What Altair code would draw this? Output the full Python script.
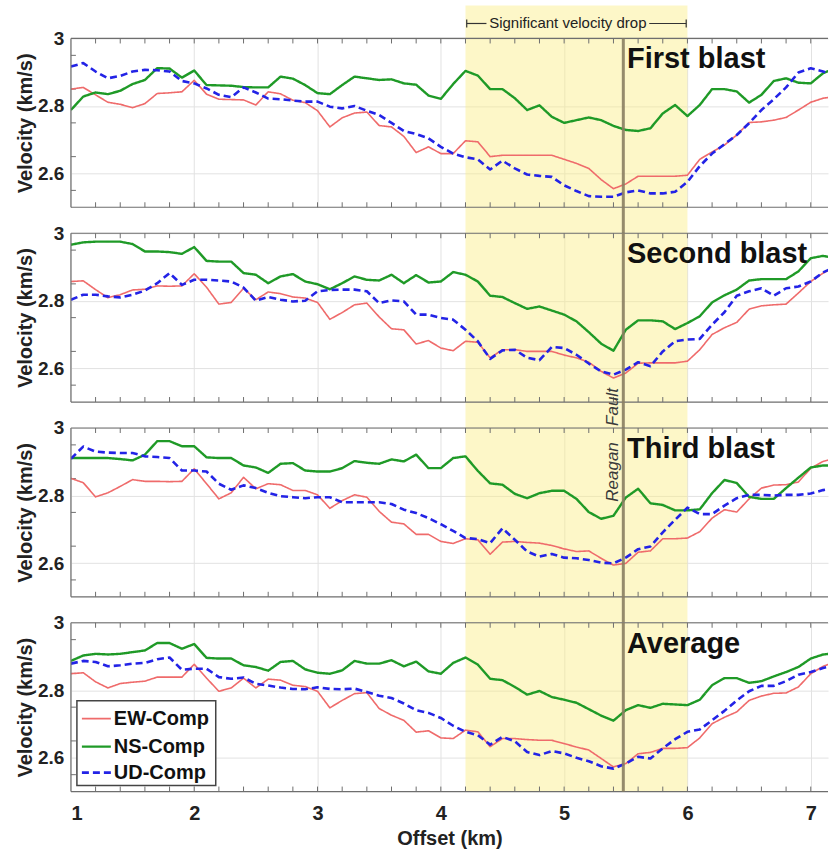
import altair as alt
import pandas as pd

# ---------------- data ----------------
OFFSET = [1.0, 1.1, 1.2, 1.3, 1.4, 1.5, 1.6, 1.7, 1.8, 1.9,
          2.0, 2.1, 2.2, 2.3, 2.4, 2.5, 2.6, 2.7, 2.8, 2.9,
          3.0, 3.1, 3.2, 3.3, 3.4, 3.5, 3.6, 3.7, 3.8, 3.9,
          4.0, 4.1, 4.2, 4.3, 4.4, 4.5, 4.6, 4.7, 4.8, 4.9,
          5.0, 5.1, 5.2, 5.3, 5.4, 5.5, 5.6, 5.7, 5.8, 5.9,
          6.0, 6.1, 6.2, 6.3, 6.4, 6.5, 6.6, 6.7, 6.8, 6.9,
          7.0, 7.1, 7.2]

P1_EW = [2.850, 2.855, 2.833, 2.811, 2.805, 2.795, 2.807, 2.837, 2.839, 2.842,
         2.876, 2.835, 2.820, 2.819, 2.818, 2.803, 2.842, 2.836, 2.817, 2.810,
         2.786, 2.738, 2.765, 2.779, 2.782, 2.742, 2.738, 2.710, 2.662, 2.679,
         2.659, 2.659, 2.697, 2.694, 2.650, 2.654, 2.654, 2.654, 2.654, 2.654,
         2.642, 2.630, 2.615, 2.582, 2.555, 2.569, 2.592, 2.592, 2.592, 2.592,
         2.595, 2.642, 2.664, 2.684, 2.714, 2.751, 2.753, 2.758, 2.766, 2.788,
         2.811, 2.823, 2.828]
P1_NS = [2.788, 2.828, 2.840, 2.835, 2.845, 2.865, 2.877, 2.912, 2.911, 2.884,
         2.905, 2.862, 2.861, 2.860, 2.856, 2.855, 2.855, 2.887, 2.881, 2.862,
         2.838, 2.835, 2.862, 2.887, 2.882, 2.877, 2.879, 2.867, 2.863, 2.831,
         2.821, 2.865, 2.904, 2.890, 2.850, 2.850, 2.823, 2.788, 2.802, 2.768,
         2.750, 2.758, 2.766, 2.758, 2.741, 2.729, 2.726, 2.734, 2.778, 2.803,
         2.770, 2.803, 2.850, 2.850, 2.843, 2.810, 2.833, 2.874, 2.882, 2.869,
         2.867, 2.897, 2.912]
P1_UD = [2.917, 2.927, 2.902, 2.882, 2.889, 2.902, 2.907, 2.906, 2.902, 2.874,
         2.867, 2.852, 2.833, 2.826, 2.855, 2.840, 2.822, 2.820, 2.816, 2.813,
         2.813, 2.798, 2.793, 2.800, 2.786, 2.773, 2.750, 2.726, 2.717, 2.704,
         2.679, 2.659, 2.648, 2.642, 2.612, 2.638, 2.615, 2.597, 2.593, 2.590,
         2.565, 2.548, 2.533, 2.531, 2.531, 2.544, 2.550, 2.541, 2.541, 2.546,
         2.575, 2.622, 2.659, 2.687, 2.714, 2.749, 2.788, 2.820, 2.855, 2.899,
         2.912, 2.902, 2.892]

P2_EW = [2.857, 2.859, 2.833, 2.809, 2.818, 2.832, 2.834, 2.844, 2.843, 2.844,
         2.880, 2.840, 2.790, 2.795, 2.837, 2.803, 2.826, 2.821, 2.811, 2.808,
         2.795, 2.745, 2.765, 2.788, 2.793, 2.752, 2.717, 2.714, 2.672, 2.682,
         2.660, 2.652, 2.680, 2.677, 2.631, 2.655, 2.655, 2.650, 2.650, 2.650,
         2.639, 2.631, 2.618, 2.591, 2.571, 2.586, 2.615, 2.616, 2.616, 2.616,
         2.621, 2.655, 2.700, 2.720, 2.736, 2.775, 2.785, 2.788, 2.790, 2.823,
         2.857, 2.882, 2.900]
P2_NS = [2.966, 2.973, 2.975, 2.975, 2.975, 2.968, 2.946, 2.946, 2.944, 2.939,
         2.959, 2.918, 2.916, 2.916, 2.882, 2.877, 2.852, 2.872, 2.879, 2.857,
         2.849, 2.834, 2.852, 2.872, 2.862, 2.860, 2.877, 2.852, 2.876, 2.854,
         2.857, 2.885, 2.877, 2.857, 2.815, 2.811, 2.793, 2.776, 2.783, 2.771,
         2.759, 2.739, 2.707, 2.673, 2.652, 2.714, 2.742, 2.742, 2.739, 2.716,
         2.734, 2.754, 2.795, 2.816, 2.833, 2.860, 2.864, 2.864, 2.864, 2.887,
         2.926, 2.933, 2.926]
P2_UD = [2.803, 2.818, 2.818, 2.813, 2.810, 2.818, 2.830, 2.852, 2.882, 2.847,
         2.862, 2.862, 2.860, 2.857, 2.839, 2.800, 2.811, 2.803, 2.798, 2.800,
         2.828, 2.832, 2.833, 2.833, 2.828, 2.793, 2.801, 2.798, 2.759, 2.759,
         2.749, 2.744, 2.714, 2.680, 2.628, 2.653, 2.655, 2.631, 2.624, 2.663,
         2.660, 2.640, 2.614, 2.591, 2.581, 2.596, 2.618, 2.606, 2.650, 2.680,
         2.685, 2.687, 2.729, 2.766, 2.815, 2.828, 2.837, 2.815, 2.837, 2.842,
         2.857, 2.884, 2.901]

P3_EW = [2.851, 2.838, 2.796, 2.808, 2.827, 2.847, 2.842, 2.842, 2.841, 2.842,
         2.879, 2.835, 2.790, 2.808, 2.854, 2.820, 2.835, 2.832, 2.815, 2.815,
         2.802, 2.762, 2.785, 2.802, 2.795, 2.753, 2.721, 2.716, 2.685, 2.685,
         2.664, 2.658, 2.672, 2.669, 2.626, 2.662, 2.664, 2.661, 2.659, 2.652,
         2.642, 2.634, 2.636, 2.614, 2.594, 2.599, 2.632, 2.636, 2.672, 2.672,
         2.674, 2.693, 2.733, 2.758, 2.751, 2.790, 2.822, 2.831, 2.832, 2.840,
         2.881, 2.901, 2.911]
P3_NS = [2.911, 2.911, 2.911, 2.911, 2.908, 2.904, 2.921, 2.961, 2.961, 2.946,
         2.946, 2.913, 2.911, 2.911, 2.889, 2.883, 2.867, 2.894, 2.896, 2.874,
         2.871, 2.871, 2.881, 2.902, 2.897, 2.894, 2.907, 2.901, 2.921, 2.881,
         2.881, 2.911, 2.916, 2.873, 2.836, 2.832, 2.805, 2.792, 2.807, 2.814,
         2.814, 2.790, 2.751, 2.731, 2.740, 2.794, 2.820, 2.777, 2.772, 2.756,
         2.756, 2.759, 2.807, 2.846, 2.837, 2.796, 2.790, 2.790, 2.822, 2.853,
         2.883, 2.889, 2.889]
P3_UD = [2.909, 2.945, 2.930, 2.927, 2.926, 2.926, 2.916, 2.914, 2.911, 2.874,
         2.874, 2.871, 2.835, 2.817, 2.830, 2.822, 2.808, 2.798, 2.795, 2.792,
         2.795, 2.795, 2.780, 2.780, 2.780, 2.780, 2.775, 2.758, 2.748, 2.733,
         2.715, 2.695, 2.674, 2.671, 2.659, 2.703, 2.669, 2.634, 2.619, 2.627,
         2.616, 2.614, 2.609, 2.601, 2.599, 2.616, 2.641, 2.649, 2.691, 2.728,
         2.764, 2.745, 2.745, 2.770, 2.792, 2.802, 2.802, 2.800, 2.802, 2.802,
         2.806, 2.816, 2.822]

P4_EW = [2.849, 2.852, 2.825, 2.807, 2.820, 2.824, 2.827, 2.839, 2.839, 2.839,
         2.877, 2.836, 2.797, 2.807, 2.836, 2.807, 2.833, 2.830, 2.815, 2.811,
         2.797, 2.748, 2.770, 2.790, 2.793, 2.746, 2.726, 2.711, 2.676, 2.680,
         2.659, 2.657, 2.682, 2.677, 2.633, 2.657, 2.657, 2.654, 2.652, 2.652,
         2.642, 2.632, 2.623, 2.598, 2.573, 2.583, 2.612, 2.616, 2.628, 2.628,
         2.630, 2.659, 2.701, 2.720, 2.736, 2.770, 2.783, 2.791, 2.792, 2.810,
         2.849, 2.871, 2.884]
P4_NS = [2.887, 2.903, 2.908, 2.906, 2.908, 2.913, 2.918, 2.940, 2.940, 2.923,
         2.937, 2.896, 2.894, 2.894, 2.874, 2.869, 2.858, 2.884, 2.887, 2.862,
         2.852, 2.849, 2.859, 2.887, 2.879, 2.879, 2.889, 2.871, 2.885, 2.856,
         2.849, 2.881, 2.897, 2.876, 2.834, 2.830, 2.810, 2.787, 2.798, 2.780,
         2.772, 2.763, 2.744, 2.725, 2.710, 2.741, 2.756, 2.748, 2.760, 2.758,
         2.756, 2.772, 2.815, 2.836, 2.836, 2.822, 2.827, 2.841, 2.854, 2.869,
         2.894, 2.906, 2.910]
P4_UD = [2.879, 2.887, 2.884, 2.871, 2.874, 2.879, 2.881, 2.892, 2.897, 2.861,
         2.864, 2.864, 2.839, 2.834, 2.838, 2.819, 2.814, 2.808, 2.804, 2.803,
         2.809, 2.804, 2.803, 2.805, 2.795, 2.784, 2.777, 2.761, 2.741, 2.733,
         2.718, 2.695, 2.677, 2.667, 2.639, 2.662, 2.649, 2.617, 2.608, 2.620,
         2.613, 2.600, 2.590, 2.575, 2.568, 2.583, 2.603, 2.598, 2.628, 2.655,
         2.677, 2.684, 2.711, 2.739, 2.770, 2.797, 2.813, 2.813, 2.827, 2.846,
         2.854, 2.866, 2.874]

PANEL_NAMES = ["First blast", "Second blast", "Third blast", "Average"]
COMPONENTS = ["EW-Comp", "NS-Comp", "UD-Comp"]
X_TICKS = [1, 2, 3, 4, 5, 6, 7]
Y_TICKS = [2.6, 2.8, 3.0]
MINOR_X = [1.2, 1.4, 1.6, 1.8, 2.0, 2.2, 2.4, 2.6, 2.8, 3.0, 3.2, 3.4, 3.6, 3.8,
           4.0, 4.2, 4.4, 4.6, 4.8, 5.0, 5.2, 5.4, 5.6, 5.8, 6.0, 6.2, 6.4, 6.6,
           6.8, 7.0]
MINOR_Y = [2.55, 2.65, 2.75, 2.85, 2.95]
DROP_ZONE = [4.2, 6.0]
FAULT_X = 5.48

# ---------------- style ----------------
FONT = "Liberation Sans"
W, H, GAP = 758, 169, 26
XMAX = 7.14
COLORS = {"EW-Comp": "#ef6b6b", "NS-Comp": "#1f9a27", "UD-Comp": "#2323e6"}
WIDTHS = {"EW-Comp": 1.6, "NS-Comp": 2.4, "UD-Comp": 2.6}
DASHES = {"EW-Comp": [1, 0], "NS-Comp": [1, 0], "UD-Comp": [7, 4]}
FRAME = "#6e6e6e"
GRID = "#e2e2e2"
YELLOW = "#fbed85"

series = [(P1_EW, P1_NS, P1_UD), (P2_EW, P2_NS, P2_UD),
          (P3_EW, P3_NS, P3_UD), (P4_EW, P4_NS, P4_UD)]

dummy = pd.DataFrame({"d": [0]})


def xenc(show):
    return alt.X(
        "offset:Q",
        scale=alt.Scale(domain=[1, XMAX], nice=False, zero=False),
        axis=alt.Axis(values=X_TICKS, grid=True, gridColor=GRID, gridWidth=1,
                      ticks=False, domain=False, labels=show,
                      labelFontSize=20, labelFontWeight="bold", labelColor="#222",
                      labelPadding=12, labelFont=FONT,
                      title="Offset (km)" if show else None,
                      titleFontSize=20, titleFontWeight="bold", titleColor="#222",
                      titleFont=FONT, titlePadding=5),
    )


def yenc():
    return alt.Y(
        "velocity:Q",
        scale=alt.Scale(domain=[2.5, 3.0], nice=False, zero=False),
        axis=alt.Axis(values=Y_TICKS, format="~g", grid=True, gridColor=GRID,
                      gridWidth=1, ticks=False, domain=False,
                      labelFontSize=19, labelFontWeight="bold", labelColor="#222",
                      labelPadding=7, labelFont=FONT,
                      title="Velocity (km/s)", titleFontSize=20,
                      titleFontWeight="bold", titleColor="#222", titleFont=FONT,
                      titlePadding=2),
    )


def panel(i):
    show = i == 3
    ew, ns, ud = series[i]
    xe = xenc(show)
    ye = yenc()
    top = -33 if i == 0 else 0
    bot = H if i == 3 else H + GAP

    band = alt.Chart(pd.DataFrame({"offset": [DROP_ZONE[0]], "offset2": [DROP_ZONE[1]]})).mark_rect(
        color=YELLOW, opacity=0.45
    ).encode(x=xe, x2="offset2:Q", y=alt.value(top), y2=alt.value(bot))

    layers = [band]

    # inward minor ticks
    mdf = pd.DataFrame({"offset": MINOR_X})
    layers.append(alt.Chart(mdf).mark_rule(color=FRAME, strokeWidth=1).encode(
        x=xe, y=alt.value(0), y2=alt.value(5)))
    layers.append(alt.Chart(mdf).mark_rule(color=FRAME, strokeWidth=1).encode(
        x=xe, y=alt.value(H - 5), y2=alt.value(H)))
    ydf = pd.DataFrame({"velocity": MINOR_Y})
    layers.append(alt.Chart(ydf).mark_rule(color=FRAME, strokeWidth=1).encode(
        y=ye, x=alt.value(0), x2=alt.value(5)))

    for comp, vals in zip(COMPONENTS, (ew, ns, ud)):
        df = pd.DataFrame({"offset": OFFSET, "velocity": vals})
        layers.append(alt.Chart(df).mark_line(
            color=COLORS[comp], strokeWidth=WIDTHS[comp], strokeDash=DASHES[comp],
            clip=True, strokeJoin="round").encode(x=xe, y=ye))

    # frame
    layers.append(alt.Chart(dummy).mark_rule(color=FRAME, strokeWidth=1.2).encode(
        x=alt.value(0), x2=alt.value(W), y=alt.value(0)))
    layers.append(alt.Chart(dummy).mark_rule(color=FRAME, strokeWidth=1.2).encode(
        x=alt.value(0), x2=alt.value(W), y=alt.value(H)))
    layers.append(alt.Chart(dummy).mark_rule(color=FRAME, strokeWidth=1.2).encode(
        x=alt.value(0), y=alt.value(0), y2=alt.value(H)))

    # fault line
    layers.append(alt.Chart(pd.DataFrame({"offset": [FAULT_X]})).mark_rule(
        color="#8a7e62", strokeWidth=3, opacity=0.9).encode(
        x=xe, y=alt.value(0), y2=alt.value(bot)))

    # panel label
    layers.append(alt.Chart(pd.DataFrame({"offset": [5.51], "t": [PANEL_NAMES[i]]})).mark_text(
        align="left", baseline="alphabetic", fontSize=29, fontWeight="bold",
        font=FONT, color="#111").encode(x=xe, y=alt.value(30), text="t:N"))

    if i == 0:
        ann = pd.DataFrame({"offset": [5.03], "t": ["Significant velocity drop"]})
        layers.append(alt.Chart(ann).mark_text(
            align="center", baseline="middle", fontSize=15, font=FONT,
            color="#222").encode(x=xe, y=alt.value(-15), text="t:N"))
        seg = pd.DataFrame({"offset": [4.21, 5.69], "offset2": [4.37, 5.99]})
        layers.append(alt.Chart(seg).mark_rule(color="#333", strokeWidth=1.2).encode(
            x=xe, x2="offset2:Q", y=alt.value(-15)))
        caps = pd.DataFrame({"offset": [4.21, 5.99]})
        layers.append(alt.Chart(caps).mark_rule(color="#333", strokeWidth=1.2).encode(
            x=xe, y=alt.value(-19), y2=alt.value(-11)))

    if i == 2:
        ft = pd.DataFrame({"offset": [5.40, 5.40], "t": ["Reagan", "Fault"], "py": [44, -21]})
        layers.append(alt.Chart(ft).mark_text(
            angle=270, align="center", baseline="middle", fontSize=17,
            fontStyle="italic", font=FONT, color="#3a3a3a").encode(
            x=xe, y=alt.Y("py:Q", scale=None), text="t:N"))

    if i == 3:
        layers.append(alt.Chart(dummy).mark_rect(
            fill="white", stroke="#444", strokeWidth=1.5).encode(
            x=alt.value(6), x2=alt.value(145), y=alt.value(78), y2=alt.value(163)))
        for k, comp in enumerate(COMPONENTS):
            yy = [96, 124, 150][k]
            layers.append(alt.Chart(dummy).mark_rule(
                color=COLORS[comp], strokeWidth=WIDTHS[comp],
                strokeDash=DASHES[comp]).encode(
                x=alt.value(11), x2=alt.value(40), y=alt.value(yy)))
            layers.append(alt.Chart(dummy).mark_text(
                align="left", baseline="middle", fontSize=20, fontWeight="bold",
                font=FONT, color="#111", text=comp).encode(
                x=alt.value(43), y=alt.value(yy)))

    return alt.layer(*layers).properties(width=W, height=H)


chart = alt.vconcat(*[panel(i) for i in range(4)], spacing=GAP).properties(
    padding={"left": 15, "top": 4, "right": 0, "bottom": 4},
    background="white",
    bounds="flush",
).configure_view(stroke="transparent")

chart.save("out.html", embed_options={"renderer": "svg", "actions": False})
